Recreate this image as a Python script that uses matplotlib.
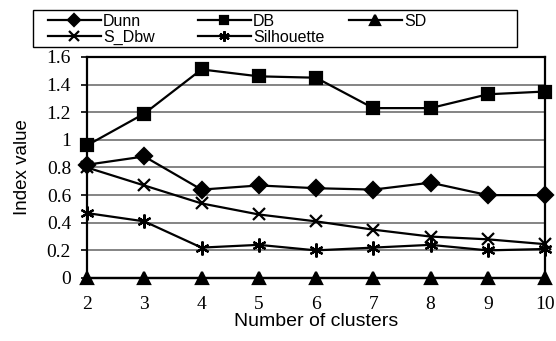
import numpy as np
import matplotlib
matplotlib.use("Agg")
from matplotlib import pyplot
from matplotlib.patches import Rectangle

clusters = [2, 3, 4, 5, 6, 7, 8, 9, 10]
dunn = [0.82, 0.88, 0.64, 0.67, 0.65, 0.64, 0.69, 0.60, 0.60]
db = [0.96, 1.19, 1.51, 1.46, 1.45, 1.23, 1.23, 1.33, 1.35]
sd = [0, 0, 0, 0, 0, 0, 0, 0, 0]
s_dbw = [0.80, 0.67, 0.54, 0.46, 0.41, 0.35, 0.30, 0.28, 0.245]
silhouette = [0.47, 0.41, 0.22, 0.24, 0.20, 0.22, 0.24, 0.20, 0.21]
y_ticks = [0, 0.2, 0.4, 0.6, 0.8, 1, 1.2, 1.4, 1.6]
y_tick_labels = ["0", "0.2", "0.4", "0.6", "0.8", "1", "1.2", "1.4", "1.6"]

sans = ["Liberation Sans Narrow", "Liberation Sans", "DejaVu Sans"]
serif = ["Liberation Serif", "DejaVu Serif"]

W, H = 556, 341
fig = pyplot.figure(figsize=(W / 100, H / 100), dpi=100)
ax = fig.add_axes([87 / W, 1 - 278 / H, (545 - 87) / W, (278 - 57) / H])

series = [
    (dunn, "Dunn", "D", 8),
    (db, "DB", "s", 8.5),
    (sd, "SD", "^", 9),
    (s_dbw, "S_Dbw", "x", 9),
    (silhouette, "Silhouette", (6, 2, 0), 10),
]
handles = {}
for vals, name, mk, ms in series:
    line, = ax.plot(clusters, vals, color="k", linewidth=1.6, marker=mk, markersize=ms,
                    markeredgewidth=1.6, label=name, clip_on=False, zorder=3)
    handles[name] = line

ax.set_xlim(2, 10)
ax.set_ylim(0, 1.6)
ax.set_xticks(clusters)
ax.set_xticklabels([str(c) for c in clusters], family=serif, fontsize=14)
ax.set_yticks(y_ticks)
ax.set_yticklabels(y_tick_labels, family=serif, fontsize=14)
ax.tick_params(axis="x", length=0, pad=13)
ax.tick_params(axis="y", length=4.5, width=1.2, pad=7)
ax.yaxis.grid(True, color="#707070", linewidth=1.2)
for s in ax.spines.values():
    s.set_linewidth(1.6)
    s.set_color("k")

ax.set_xlabel("Number of clusters", family=sans, fontsize=14, labelpad=0)
ax.set_ylabel("Index value", family=sans, fontsize=13.5, labelpad=11)

# legend: three columns placed by hand, one frame around them
columns = [(["Dunn", "S_Dbw"], 48), (["DB", "Silhouette"], 198), (["SD"], 349)]
for names, x0 in columns:
    leg = fig.legend([handles[n] for n in names], names, loc="upper left",
                     bbox_to_anchor=(x0 / W, 1 - 14 / H), frameon=False,
                     prop={"family": sans, "size": 11.5}, handlelength=3.3, markerscale=0.75,
                     borderpad=0, borderaxespad=0, labelspacing=0.05, handletextpad=0.15)
fig.patches.append(Rectangle((33 / W, 1 - 47 / H), 484 / W, 37 / H, transform=fig.transFigure,
                             fill=False, edgecolor="k", linewidth=1.0))

pyplot.savefig("out.png")
